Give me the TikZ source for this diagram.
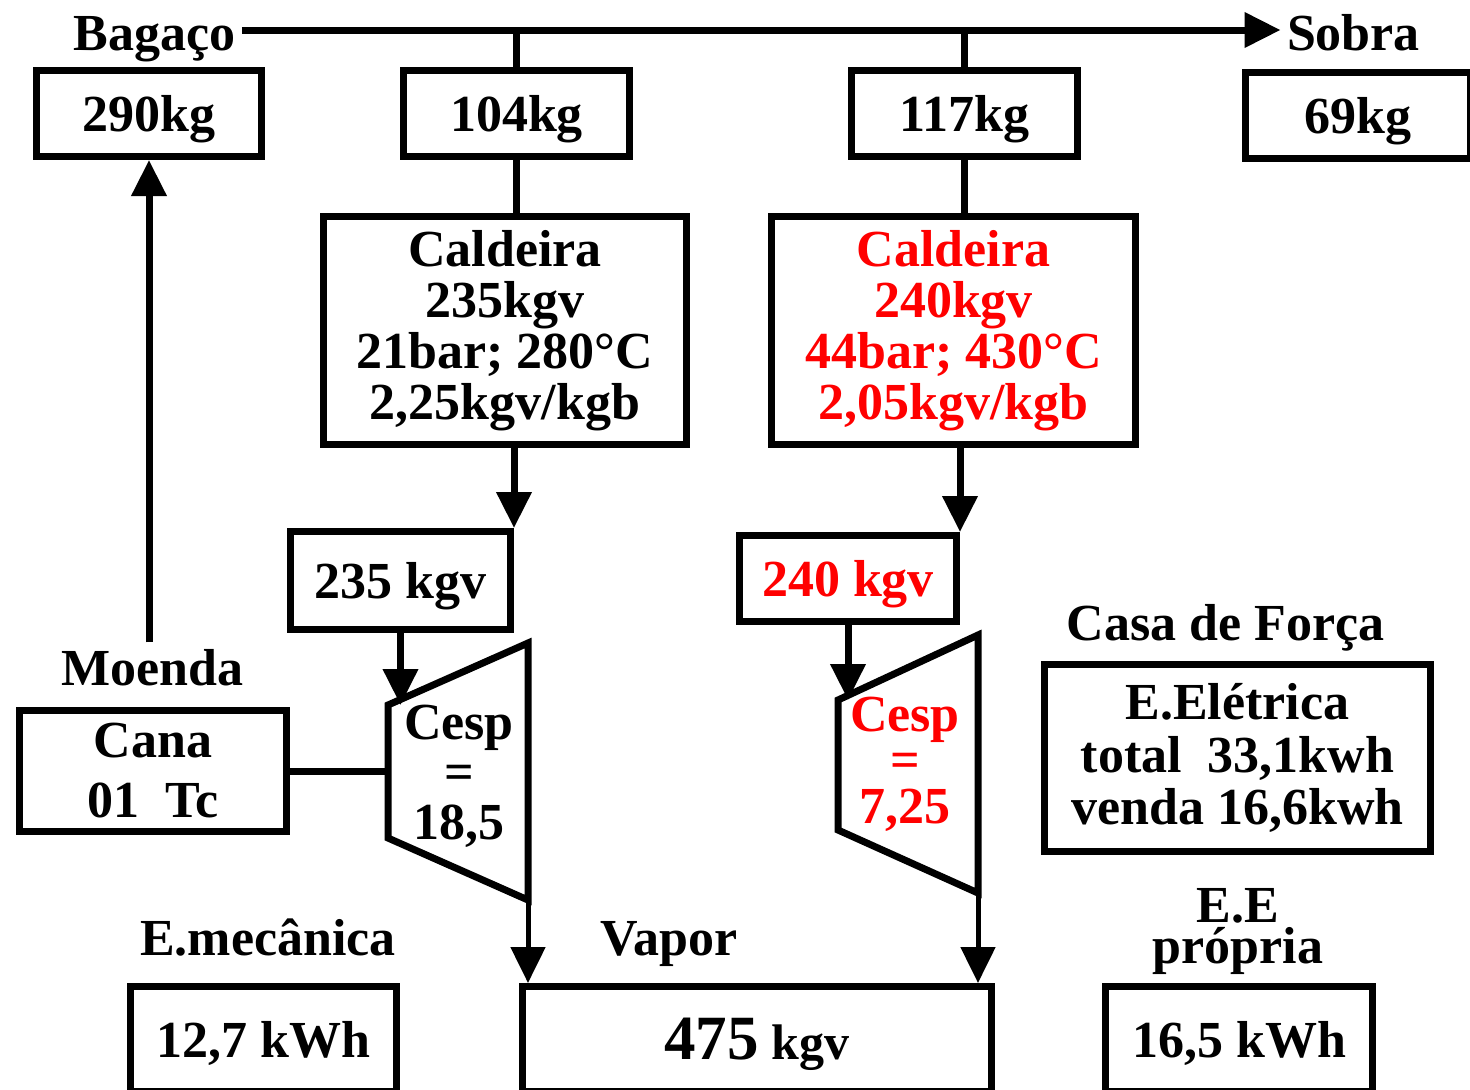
\documentclass[tikz,border=0pt]{standalone}
\usepackage{fontspec}
\setmainfont{Liberation Serif}
\usetikzlibrary{arrows.meta}
\tikzset{
	caixa/.style   = {draw, line width=3.5pt, inner sep=0pt, align=center},
	linha/.style   = {caixa, text depth=0pt},
	titulo/.style  = {inner sep=1.5pt, anchor=base},
	turbina/.style = {draw, line width=3.5pt},
	quente/.style  = {text=red}
}

\begin{document}
\begin{tikzpicture}[x=0.5pt, y=-0.5pt, line width=3.5pt, >={Triangle[length=18pt,width=17pt]},
	font=\fontsize{26}{25.5}\selectfont\bfseries]
	\useasboundingbox (0,0) rectangle (1470,1089);
	\coordinate (bus) at (0,30);
	\draw
	node at (154.5,50) [titulo] (bagaco) {Bagaço}
	node at (1353.5,50) [titulo] (sobra) {Sobra}
	node at (149,113.5) [linha, minimum width=112.5pt, minimum height=43pt] (m290) {290kg}
	node at (516.5,113.5) [linha, minimum width=113pt, minimum height=43pt] (m104) {104kg}
	node at (964.5,113.5) [linha, minimum width=113pt, minimum height=43pt] (m117) {117kg}
	node at (1358,115.5) [linha, minimum width=112.5pt, minimum height=43pt] (m69) {69kg}
	node at (505,330.5) [caixa, minimum width=181.5pt, minimum height=114pt] (cald1)
		{Caldeira\\235kgv\\21bar; 280°C\\2,25kgv/kgb}
	node at (953.5,330.5) [caixa, quente, minimum width=182pt, minimum height=114pt] (cald2)
		{Caldeira\\240kgv\\44bar; 430°C\\2,05kgv/kgb}
	node at (400.5,580.5) [linha, minimum width=110pt, minimum height=49pt] (v235) {235 kgv}
	node at (848,578.5) [linha, quente, minimum width=108.5pt, minimum height=43pt] (v240) {240 kgv}
	node at (152.5,685) [titulo] (moenda) {Moenda}
	node at (153,771) [caixa, minimum width=133.5pt, minimum height=60.5pt,
		font=\fontsize{26}{30}\selectfont\bfseries] (cana) {Cana\\01~~Tc}
	node at (1225.5,640) [titulo] (casalbl) {Casa de Força}
	node at (1237.5,758) [caixa, minimum width=193pt, minimum height=93.5pt,
		font=\fontsize{26}{26.2}\selectfont\bfseries] (casa) {E.Elétrica\\total~~33,1kwh\\venda 16,6kwh}
	node at (268,955) [titulo] (emeclbl) {E.mecânica}
	node at (669,955) [titulo] (vaporlbl) {Vapor}
	node at (1238,931) [align=center, inner sep=0pt,
		font=\fontsize{26}{20.5}\selectfont\bfseries] (eelbl) {E.E\\própria}
	node at (263.5,1039) [linha, minimum width=133pt, minimum height=52.5pt] (emec) {12,7 kWh}
	node at (757,1039) [linha, minimum width=234.5pt, minimum height=52.5pt] (vapor)
		{{\fontsize{31.5}{31.5}\selectfont 475} {\fontsize{25}{25}\selectfont kgv}}
	node at (1239,1039) [linha, minimum width=133.5pt, minimum height=52.5pt] (eep) {16,5 kWh};

	% turbinas
	\draw[turbina] (388,705) coordinate (t1tl) -- (528,643) -- (528,900) coordinate (t1br)
		-- (388,838) -- cycle;
	\draw[turbina] (838,700) coordinate (t2tl) -- (978,635) -- (978,893) coordinate (t2br)
		-- (838,830) -- cycle;
	\node[align=center, font=\fontsize{26}{25}\selectfont\bfseries] (cesp1) at (459,776) {Cesp\\=\\18,5};
	\node[align=center, quente, font=\fontsize{26}{23}\selectfont\bfseries] (cesp2) at (905,764) {Cesp\\=\\7,25};

	\draw[->](bagaco.east |- bus)--(sobra.west |- bus);
	\draw(m104.north)--(m104.north |- bus);
	\draw(m117.north)--(m117.north |- bus);
	\draw(m104.south)--(m104.south |- cald1.north);
	\draw(m117.south)--(m117.south |- cald2.north);
	\draw[->](v235.north east |- cald1.south)--(v235.north east);
	\draw[->](v240.north east |- cald2.south)--(v240.north east);
	\draw[->](v235.south)--(v235.south |- t1tl);
	\draw[->](v240.south)--(v240.south |- t2tl);
	\draw(cana.east)--(cana.east -| t1tl);
	\draw[->](m290.south |- moenda.north)--(m290.south);
	\draw[->, line width=2.5pt](t1br)--(t1br |- vapor.north);
	\draw[->, line width=2.5pt](t2br)--(t2br |- vapor.north);
\end{tikzpicture}
\end{document}
